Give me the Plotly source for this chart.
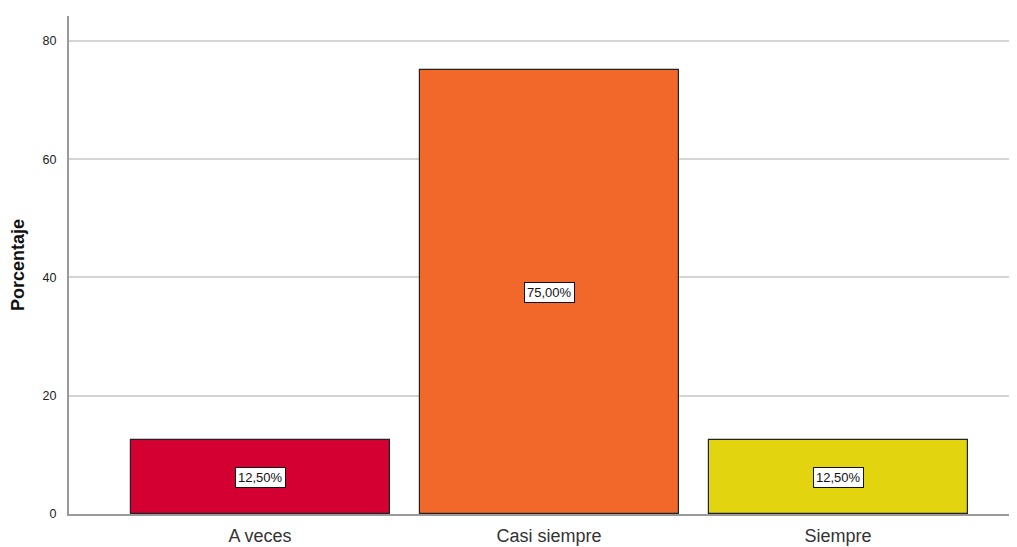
import plotly.graph_objects as go

categories = ["A veces", "Casi siempre", "Siempre"]
values = [12.5, 75.0, 12.5]
labels = ["12,50%", "75,00%", "12,50%"]
colors = ["#D50032", "#F2672A", "#E2D40F"]
y_ticks = [0, 20, 40, 60, 80]

xs = list(range(len(categories)))

fig = go.Figure()
fig.add_trace(go.Bar(
    x=xs, y=values, width=0.896,
    marker=dict(color=colors, line=dict(color="#222222", width=1.2)),
    hoverinfo="skip",
))

for x, v, t in zip(xs, values, labels):
    fig.add_annotation(
        x=x, y=v / 2, text=t, showarrow=False,
        font=dict(family="Liberation Sans, Arial", size=13, color="#111111"),
        bgcolor="white", bordercolor="#111111", borderwidth=1, borderpad=2,
    )

fig.update_layout(
    width=1009, height=539,
    margin=dict(l=61, r=0, t=8, b=33),
    plot_bgcolor="white", paper_bgcolor="white",
    showlegend=False,
    bargap=0,
)
fig.update_xaxes(
    range=[-0.661, 2.619],
    tickmode="array", tickvals=xs, ticktext=categories,
    tickfont=dict(family="Liberation Sans, Arial", size=18, color="#333333"),
    showgrid=False, zeroline=False,
    showline=True, linecolor="#9a9a9a", linewidth=2,
    ticks="", ticklabelstandoff=4,
)
fig.update_yaxes(
    range=[0, 84.2],
    tickmode="array", tickvals=y_ticks,
    tickfont=dict(family="Liberation Sans, Arial", size=12.5, color="#222222"),
    showgrid=True, gridcolor="#d4d4d4", gridwidth=1.5,
    zeroline=False,
    showline=True, linecolor="#9a9a9a", linewidth=2,
    ticks="", ticklabelstandoff=8,
    title=dict(text="<b>Porcentaje</b>", font=dict(family="Liberation Sans, Arial", size=18, color="#111111"), standoff=18),
)

fig.write_html("out.html")
